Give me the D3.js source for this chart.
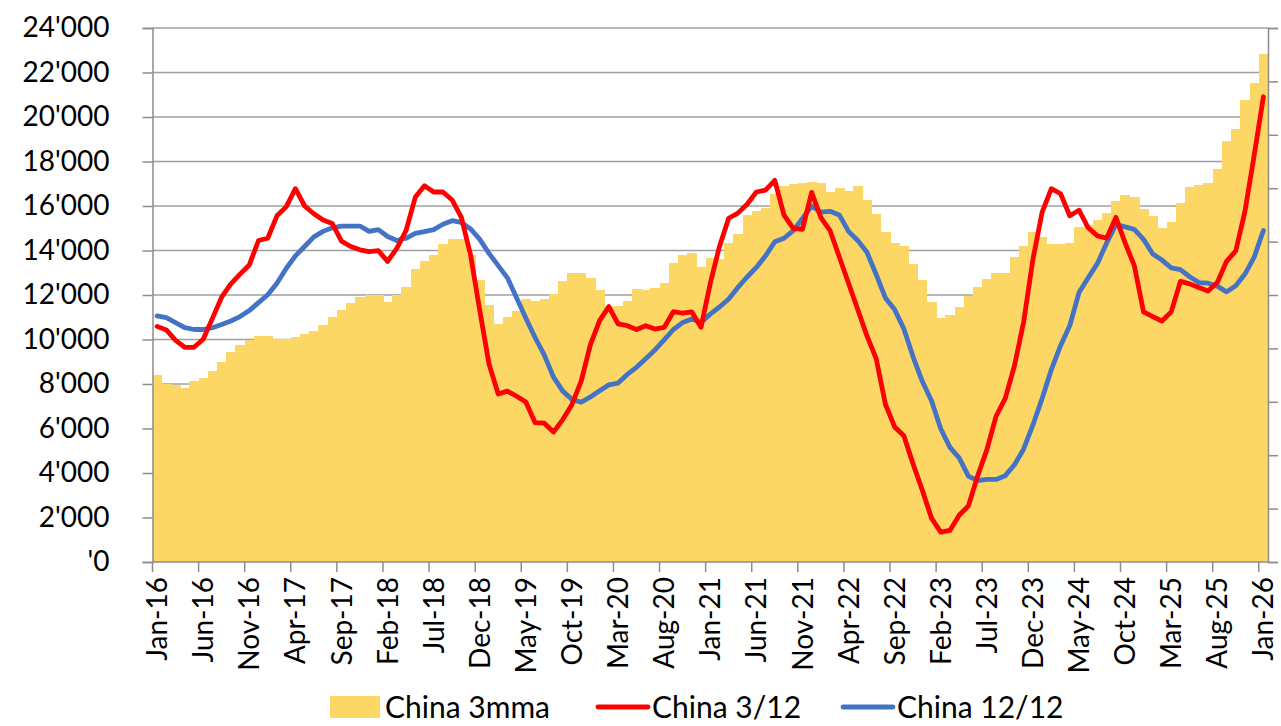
<!DOCTYPE html>
<html>
<head>
<meta charset="utf-8">
<script src="https://cdn.jsdelivr.net/npm/d3@7/dist/d3.min.js"></script>
<style>
  html, body { margin: 0; padding: 0; background: #ffffff; }
  svg { display: block; }
  text { font-family: Lato, "Noto Sans", sans-serif; fill: #000; }
</style>
</head>
<body>
<svg id="chart" width="1281" height="726"></svg>
<script>
// Monthly series, Jan-16 .. Jan-26
const firstMonth = new Date(2016, 0, 1);
const lastMonth = new Date(2026, 0, 1);
const months = d3.timeMonth.range(firstMonth, d3.timeMonth.offset(lastMonth, 1));
const categories = months.map(d3.timeFormat("%b-%y"));

// China 3mma (bars)
const china3mma = [
  8400, 8020, 7950, 7800, 8120, 8260, 8580, 8970, 9450, 9750,
  10000, 10170, 10170, 10020, 10020, 10090, 10240, 10390, 10640, 11020,
  11340, 11660, 11920, 11980, 11980, 11680, 11980, 12350, 13160, 13550,
  13810, 14270, 14520, 14520, 13780, 12690, 11560, 10710, 11000, 11280,
  11800, 11740, 11820, 12050, 12610, 13000, 13000, 12770, 12210, 11510,
  11520, 11740, 12280, 12210, 12300, 12530, 13460, 13800, 13880, 13260,
  13650, 13640, 14340, 14740, 15610, 15770, 15930, 16560, 16900, 16980,
  17040, 17100, 17050, 16650, 16800, 16660, 16900, 16250, 15630, 14820,
  14350, 14200, 13400, 12690, 11680, 10980, 11100, 11440, 11970, 12360,
  12700, 13010, 13010, 13700, 14200, 14810, 14600, 14310, 14310, 14340,
  15050, 15150, 15360, 15690, 16230, 16480, 16400, 15850, 15530, 14990,
  15300, 16150, 16860, 16960, 17040, 17650, 18900, 19480, 20750, 21540,
  22820
];

// China 3/12 (red line)
const china3over12 = [
  10590, 10430, 9960, 9650, 9650, 10010, 10950, 11900, 12500, 12940,
  13350, 14450, 14550, 15560, 15960, 16780, 16000, 15650, 15370, 15210,
  14420, 14180, 14030, 13950, 13990, 13510, 14100, 14890, 16390, 16910,
  16630, 16630, 16270, 15490, 13800, 11300, 8900, 7550, 7680, 7450,
  7190, 6260, 6240, 5840, 6400, 7080, 8130, 9770, 10850, 11480,
  10700, 10620, 10450, 10620, 10470, 10540, 11250, 11180, 11240, 10550,
  12520, 14180, 15450, 15680, 16080, 16630, 16710, 17150, 15590, 14990,
  14950, 16610, 15480, 14890, 13710, 12530, 11350, 10160, 9140, 7090,
  6070, 5670, 4410, 3230, 1970, 1340, 1420, 2100, 2520, 3860,
  5040, 6550, 7350, 8820, 10800, 13600, 15720, 16780, 16550, 15560,
  15810, 15020, 14660, 14550, 15490, 14340, 13320, 11240, 11030, 10830,
  11240, 12610, 12500, 12340, 12180, 12560, 13510, 13980, 15760, 18280,
  20910
];

// China 12/12 (blue line)
const china12over12 = [
  11060, 10980, 10760, 10530, 10450, 10450, 10530, 10670, 10830, 11030,
  11300, 11660, 12010, 12530, 13190, 13760, 14180, 14610, 14860, 15020,
  15100, 15100, 15100, 14860, 14940, 14630, 14450, 14550, 14770, 14850,
  14940, 15180, 15340, 15260, 14970, 14500, 13870, 13320, 12770, 11870,
  10960, 10090, 9300, 8310, 7680, 7310, 7180, 7420, 7700, 7960,
  8040, 8430, 8750, 9140, 9530, 9980, 10450, 10760, 10920, 10760,
  11140, 11460, 11820, 12340, 12810, 13240, 13760, 14390, 14550, 14890,
  15440, 16000, 15720, 15760, 15600, 14860, 14450, 13920, 12920, 11870,
  11350, 10480, 9220, 8120, 7250, 5990, 5150, 4680, 3860, 3660,
  3710, 3710, 3880, 4370, 5080, 6160, 7350, 8650, 9720, 10630,
  12110, 12780, 13420, 14340, 15160, 15060, 14950, 14500, 13840, 13570,
  13220, 13140, 12820, 12560, 12530, 12400, 12140, 12420, 12940, 13700,
  14900
];

// Axis ticks and labels
const yTickValues = [0, 2000, 4000, 6000, 8000, 10000, 12000, 14000, 16000, 18000, 20000, 22000, 24000];
const yTickLabels = ["'0", "2'000", "4'000", "6'000", "8'000", "10'000", "12'000", "14'000", "16'000", "18'000", "20'000", "22'000", "24'000"];
const xTickLabels = ["Jan-16", "Jun-16", "Nov-16", "Apr-17", "Sep-17", "Feb-18", "Jul-18", "Dec-18", "May-19", "Oct-19",
  "Mar-20", "Aug-20", "Jan-21", "Jun-21", "Nov-21", "Apr-22", "Sep-22", "Feb-23", "Jul-23", "Dec-23",
  "May-24", "Oct-24", "Mar-25", "Aug-25", "Jan-26"];
const secondaryTicks = [0, 0.1, 0.2, 0.3, 0.4, 0.5, 0.6, 0.7, 0.8, 0.9, 1];

const seriesNames = ["China 3mma", "China 3/12", "China 12/12"];
const colors = { bar: "#FDD766", red: "#FF0000", blue: "#4472C4", grid: "#A0A0A0", axis: "#8C8C8C" };

const plot = { left: 152.5, right: 1268, top: 28, bottom: 562 };
const lineWidth = 4.8;

const svg = d3.select("#chart");

const x = d3.scaleBand().domain(categories).range([plot.left, plot.right]).paddingInner(0).paddingOuter(0);
const y = d3.scaleLinear().domain([0, 24000]).range([plot.bottom, plot.top]);
const y2 = d3.scaleLinear().domain([0, 1]).range([plot.bottom, plot.top]);

// Horizontal gridlines (behind the bars)
svg.append("g")
  .selectAll("line")
  .data(yTickValues.filter(v => v > 0))
  .join("line")
  .attr("x1", plot.left).attr("x2", plot.right)
  .attr("y1", d => y(d)).attr("y2", d => y(d))
  .attr("stroke", colors.grid).attr("stroke-width", 1.5);

// Bars: 3-month moving average
svg.append("g")
  .attr("shape-rendering", "crispEdges")
  .selectAll("rect")
  .data(china3mma)
  .join("rect")
  .attr("x", (d, i) => x(categories[i]))
  .attr("width", x.bandwidth() + 0.6)
  .attr("y", d => y(d))
  .attr("height", d => y(0) - y(d))
  .attr("fill", colors.bar);

// Lines
const line = d3.line()
  .x((d, i) => x(categories[i]) + x.bandwidth() / 2)
  .y(d => y(d));

svg.append("path")
  .datum(china12over12)
  .attr("d", line)
  .attr("fill", "none")
  .attr("stroke", colors.blue)
  .attr("stroke-width", lineWidth)
  .attr("stroke-linejoin", "round")
  .attr("stroke-linecap", "round");

svg.append("path")
  .datum(china3over12)
  .attr("d", line)
  .attr("fill", "none")
  .attr("stroke", colors.red)
  .attr("stroke-width", lineWidth)
  .attr("stroke-linejoin", "round")
  .attr("stroke-linecap", "round");

// Left value axis
const yAxis = d3.axisLeft(y)
  .tickValues(yTickValues)
  .tickFormat((d, i) => yTickLabels[i])
  .tickSize(10)
  .tickPadding(33);
const gy = svg.append("g").attr("transform", `translate(${plot.left},0)`).call(yAxis);
gy.select(".domain").attr("stroke", colors.axis).attr("stroke-width", 1.5);
gy.selectAll(".tick line").attr("stroke", colors.axis).attr("stroke-width", 1.5);
gy.selectAll(".tick text").attr("font-size", 28).attr("font-family", "Lato, sans-serif").attr("fill", "#000");

// Right secondary axis (unlabelled)
const y2Axis = d3.axisRight(y2).tickValues(secondaryTicks).tickFormat("").tickSize(10);
const gy2 = svg.append("g").attr("transform", `translate(${plot.right},0)`).call(y2Axis);
gy2.select(".domain").attr("stroke", colors.axis).attr("stroke-width", 1.5);
gy2.selectAll(".tick line").attr("stroke", colors.axis).attr("stroke-width", 1.5);

// Category axis: ticks on band edges every 5 months, labels centred on the band
const tickIdx = xTickLabels.map(l => categories.indexOf(l));
const gx = svg.append("g");
gx.append("line")
  .attr("x1", plot.left).attr("x2", plot.right)
  .attr("y1", plot.bottom).attr("y2", plot.bottom)
  .attr("stroke", colors.axis).attr("stroke-width", 1.5);
gx.selectAll("line.tick")
  .data(tickIdx)
  .join("line")
  .attr("class", "tick")
  .attr("x1", i => x(categories[i])).attr("x2", i => x(categories[i]))
  .attr("y1", plot.bottom).attr("y2", plot.bottom + 10)
  .attr("stroke", colors.axis).attr("stroke-width", 1.5);
gx.selectAll("text")
  .data(tickIdx)
  .join("text")
  .attr("transform", i => `translate(${x(categories[i]) + x.bandwidth() / 2},577) rotate(-90)`)
  .attr("text-anchor", "end")
  .attr("dy", "0.36em")
  .attr("font-size", 28)
  .text(i => categories[i]);

// Legend
const legend = svg.append("g");
const ly = 707;
const legendFont = 30;
legend.append("rect").attr("x", 330).attr("y", ly - 11).attr("width", 50).attr("height", 22).attr("fill", colors.bar);
legend.append("text").attr("x", 385).attr("y", ly).attr("dy", "0.36em").attr("font-size", legendFont).text(seriesNames[0]);
legend.append("line").attr("x1", 598).attr("x2", 648).attr("y1", ly).attr("y2", ly)
  .attr("stroke", colors.red).attr("stroke-width", lineWidth).attr("stroke-linecap", "round");
legend.append("text").attr("x", 652).attr("y", ly).attr("dy", "0.36em").attr("font-size", legendFont).text(seriesNames[1]);
legend.append("line").attr("x1", 843).attr("x2", 893).attr("y1", ly).attr("y2", ly)
  .attr("stroke", colors.blue).attr("stroke-width", lineWidth).attr("stroke-linecap", "round");
legend.append("text").attr("x", 897).attr("y", ly).attr("dy", "0.36em").attr("font-size", legendFont).text(seriesNames[2]);
</script>
</body>
</html>
